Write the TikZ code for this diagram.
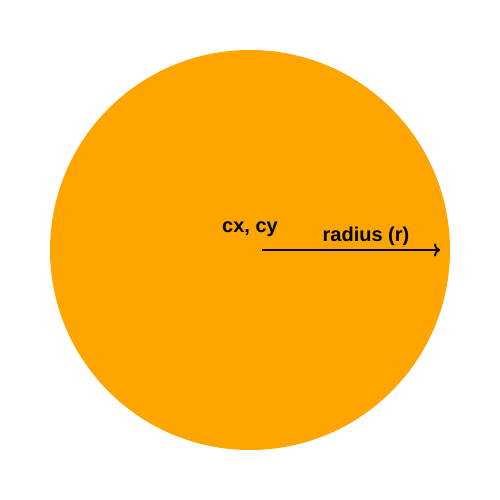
\documentclass[tikz,border=0pt]{standalone}
\usepackage{fontspec}
\setmainfont{Liberation Sans}
\usetikzlibrary{positioning,arrows.meta}
\definecolor{disc}{RGB}{255,165,0}
\tikzset{lbl/.style={font=\bfseries\fontsize{20}{24}\selectfont, inner sep=0pt}}
\begin{document}
\begin{tikzpicture}[x=1pt,y=-1pt]
\useasboundingbox (0,0) rectangle (500,500);
\node[circle, fill=disc, minimum size=400pt, inner sep=0pt] (c) at (250,250) {};
\coordinate (o) at (262,250);
\coordinate (r) at (440,250);
\node[lbl] (cxy) at (250,229) {cx, cy};
\node[lbl] (rad) at (366,236) {radius (r)};

\draw[-{To[length=6pt,width=13pt]}, line width=1.8pt] (o) -- (r);
\end{tikzpicture}
\end{document}
